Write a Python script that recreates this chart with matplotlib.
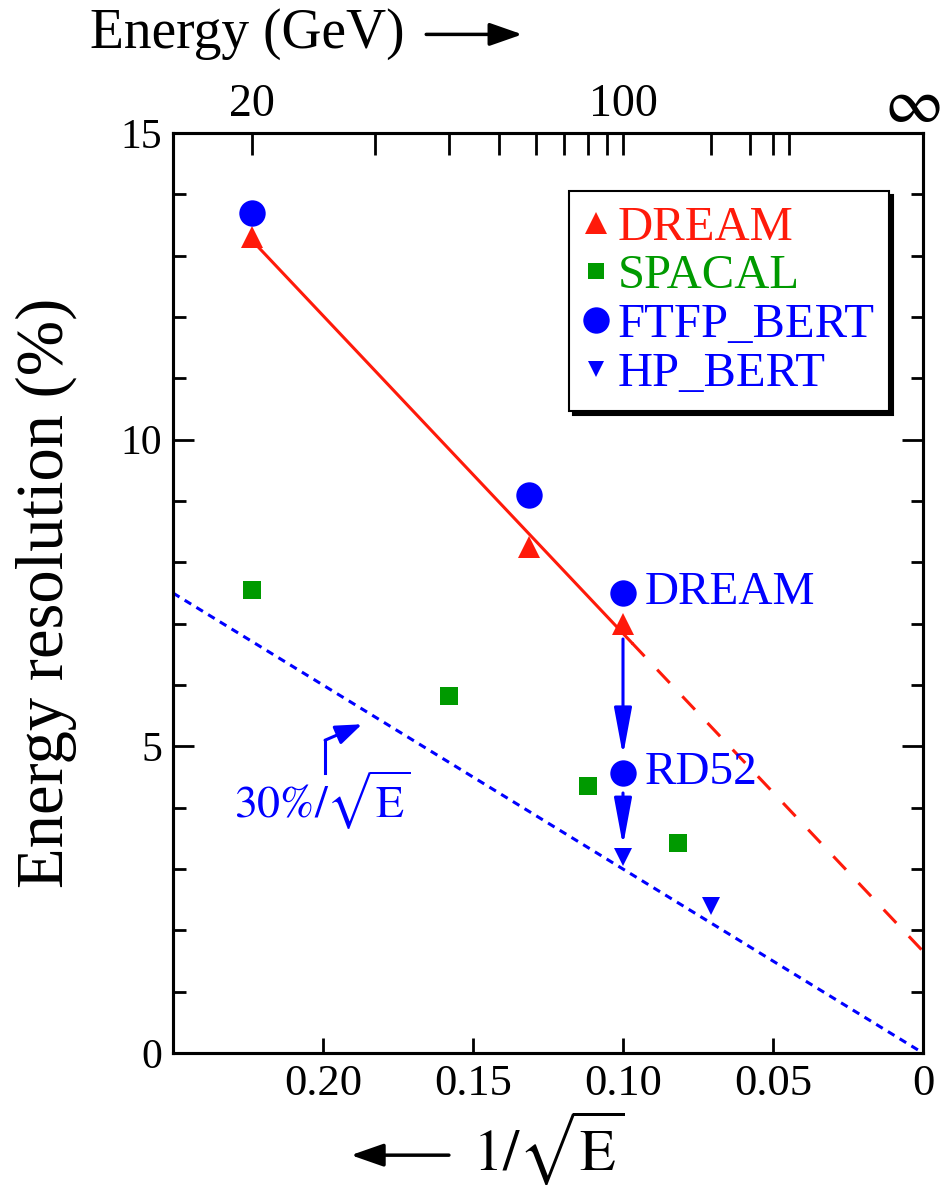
import numpy as np
import matplotlib
matplotlib.use("Agg")
import matplotlib.pyplot as plt
from matplotlib.lines import Line2D
from matplotlib.patches import FancyArrowPatch

plt.rcParams['font.family'] = ['Liberation Serif', 'DejaVu Serif']
plt.rcParams['mathtext.fontset'] = 'stix'

RED = '#ff1a0a'
GREEN = '#009a00'
BLUE = '#0000ff'

# beam energies (GeV) and measured resolutions (%)
dream_e = [20, 58, 100]
dream_res = [13.3, 8.25, 7.0]

spacal_e = [20, 40, 80, 150]
spacal_res = [7.55, 5.82, 4.35, 3.42]

ftfp_e = [20, 58, 100]
ftfp_res = [13.7, 9.1, 7.5]

rd52_e = [100]
rd52_res = [4.57]

hp_e = [100, 200]
hp_res = [3.2, 2.4]

# top axis energies
top_ticks_e = [20, 30, 40, 50, 60, 70, 80, 90, 100, 200, 300, 400, 500]
top_labels_e = {20: '20', 100: '100'}

stochastic = 30.0  # 30%/sqrt(E) reference


def inv_sqrt(e):
    return 1.0 / np.sqrt(np.asarray(e, dtype=float))


fig = plt.figure(figsize=(9.41, 11.86), dpi=100)
ax = fig.add_axes([0.1838, 0.1121, 0.7971, 0.7758])
ax.set_xlim(0.25, 0.0)
ax.set_ylim(0, 15)

# linear fit through the DREAM points
slope, icept = np.polyfit(inv_sqrt(dream_e), dream_res, 1)
x_solid = np.array([inv_sqrt(20), 0.097])
x_dash = np.array([0.097, 0.0])
ax.plot(x_solid, icept + slope * x_solid, color=RED, lw=2.2, zorder=2)
ax.plot(x_dash, icept + slope * x_dash, color=RED, lw=2.2,
        dashes=(6, 6), zorder=2)

# 30%/sqrt(E) line
x_ref = np.array([0.25, 0.0])
ax.plot(x_ref, stochastic * x_ref, color=BLUE, lw=2.2, dashes=(2.5, 2.0),
        zorder=2)

ax.plot(inv_sqrt(dream_e), dream_res, '^', color=RED, ms=16, mew=0, zorder=4)
ax.plot(inv_sqrt(spacal_e), spacal_res, 's', color=GREEN, ms=12.5, mew=0,
        zorder=4)
ax.plot(inv_sqrt(ftfp_e), ftfp_res, 'o', color=BLUE, ms=19, mew=0, zorder=5)
ax.plot(inv_sqrt(rd52_e), rd52_res, 'o', color=BLUE, ms=19, mew=0, zorder=5)
ax.plot(inv_sqrt(hp_e), hp_res, 'v', color=BLUE, ms=13, mew=0, zorder=4)

# DREAM -> RD52 -> HP_BERT arrows
arrow_kw = dict(arrowstyle='-|>,head_length=1.45,head_width=0.27',
                color=BLUE, lw=2.2, mutation_scale=20, shrinkA=0, shrinkB=0)
ax.annotate('', xy=(0.1, 4.85), xytext=(0.1, 6.75), arrowprops=arrow_kw,
            zorder=6)
ax.annotate('', xy=(0.1, 3.38), xytext=(0.1, 4.24), arrowprops=arrow_kw,
            zorder=6)
ax.text(0.0927, 7.5, 'DREAM', color=BLUE, fontsize=34, va='center',
        ha='left')
ax.text(0.0927, 4.57, 'RD52', color=BLUE, fontsize=34, va='center',
        ha='left')

# label for the reference line
ax.plot([0.1993, 0.1993], [4.57, 5.10], color=BLUE, lw=2.2)
ax.annotate('', xy=(0.187, 5.36), xytext=(0.1993, 5.10),
            arrowprops=dict(arrowstyle='-|>,head_length=0.8,head_width=0.3',
                            color=BLUE, lw=2.2, mutation_scale=20,
                            shrinkA=0, shrinkB=0))
ax.text(0.2, 4.12, r'$30\%/\sqrt{\mathrm{E}}$', color=BLUE, fontsize=33,
        ha='center', va='center')

# axes styling
for sp in ax.spines.values():
    sp.set_linewidth(2.2)
ax.set_xticks([0.20, 0.15, 0.10, 0.05, 0.0])
ax.set_xticklabels(['0.20', '0.15', '0.10', '0.05', '0'])
ax.set_yticks([0, 5, 10, 15])
ax.set_yticks(np.arange(0, 15, 1), minor=True)
ax.tick_params(axis='both', which='major', direction='in', width=2,
               labelsize=32)
ax.tick_params(axis='y', which='major', length=15, right=True, pad=8,
               labelsize=30)
ax.tick_params(axis='y', which='minor', direction='in', length=9, width=2,
               right=True)
ax.tick_params(axis='x', which='major', length=11, top=False, pad=8)
ax.set_ylabel('Energy resolution (%)', fontsize=48)
ax.yaxis.set_label_coords(-0.128, 0.5)

# energy scale along the top
top = ax.twiny()
top.set_xlim(ax.get_xlim())
top.set_xticks(inv_sqrt(top_ticks_e))
top.set_xticklabels([top_labels_e.get(e, '') for e in top_ticks_e])
top.tick_params(axis='x', direction='in', length=16, width=2, labelsize=33,
                pad=5)
for sp in top.spines.values():
    sp.set_linewidth(2.2)
fig.text(912 / 941, 1 - 107 / 1186, r'$\infty$', fontsize=46, ha='center',
         va='center')

# legend
handles = [
    Line2D([], [], ls='none', marker='^', color=RED, ms=16, mew=0),
    Line2D([], [], ls='none', marker='s', color=GREEN, ms=11, mew=0),
    Line2D([], [], ls='none', marker='o', color=BLUE, ms=19, mew=0),
    Line2D([], [], ls='none', marker='v', color=BLUE, ms=12, mew=0),
]
labels = ['DREAM', 'SPACAL', 'FTFP_BERT', 'HP_BERT']
leg = ax.legend(handles, labels, loc='upper right',
                bbox_to_anchor=(0.955, 0.937), fontsize=35,
                labelcolor=[RED, GREEN, BLUE, BLUE], frameon=True,
                fancybox=False, edgecolor='black', handlelength=0.5,
                handletextpad=0.2, borderpad=0.3, borderaxespad=0,
                labelspacing=0.1,
                shadow={'color': 'black', 'alpha': 1.0, 'ox': 3, 'oy': -3})
leg.get_frame().set_linewidth(1.5)

# axis captions with direction arrows
fig.text(0.096, 0.971, 'Energy (GeV)', fontsize=40, ha='left', va='center')
fig.patches.append(FancyArrowPatch(
    (0.45, 0.971), (0.558, 0.971), transform=fig.transFigure,
    arrowstyle='-|>,head_length=1.0,head_width=0.35', mutation_scale=20,
    color='black', lw=2.5))
fig.text(0.583, 1 - 1170 / 1186, r'$1/\sqrt{\mathrm{E}}$', fontsize=42,
         ha='center', va='baseline')
fig.patches.append(FancyArrowPatch(
    (0.48, 0.026), (0.37, 0.026), transform=fig.transFigure,
    arrowstyle='-|>,head_length=1.0,head_width=0.35', mutation_scale=20,
    color='black', lw=2.5))

fig.savefig('out.png', dpi=100)
